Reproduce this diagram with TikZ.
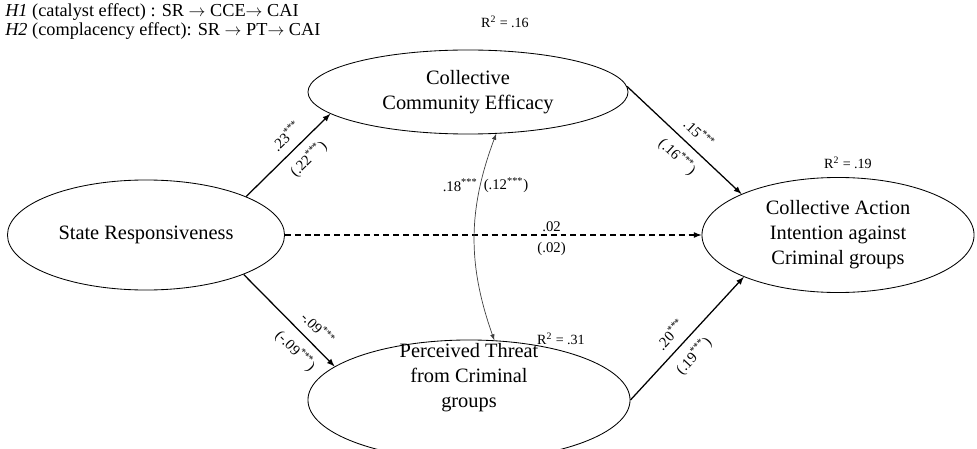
\documentclass[tikz,border=0pt]{standalone}
\usepackage{fontspec}
\setmainfont{Liberation Serif}
\usepackage{tikz}
\usetikzlibrary{shapes.geometric, arrows, positioning}
\tikzstyle{latent} = [ellipse, draw=black, line width=0.6pt, inner sep=0pt, align=center, font=\fontsize{14.5}{17.8}\selectfont]
\tikzstyle{ltext} = [align=center, inner sep=0pt, font=\fontsize{14.5}{17.8}\selectfont]
\tikzstyle{line} = [draw, line width=0.9pt, -latex]
\tikzstyle{dashline} = [draw, line width=0.9pt, dash pattern=on 4.2pt off 2.8pt, -latex]
\tikzstyle{covline} = [draw=black!75, line width=0.5pt, latex-latex]
\tikzstyle{coef} = [font=\fontsize{10.5}{12}\selectfont, inner sep=1pt, text=black]
\tikzstyle{rsq} = [font=\fontsize{10}{12}\selectfont, inner sep=0pt]
\newcommand{\sig}{\textsuperscript{***}}

\begin{document}
\begin{tikzpicture}[x=0.025cm, y=0.025cm]
        \useasboundingbox (0,0) rectangle (977,448);

        \node (hyp) [anchor=north west, align=left, inner sep=0pt, font=\fontsize{13}{13.8}\selectfont] at (5,445)
                {\textit{H1} (catalyst effect) : SR $\rightarrow$ CCE$\rightarrow$ CAI\\
                 \textit{H2} (complacency effect): SR $\rightarrow$ PT$\rightarrow$ CAI};

        \node (sr)  [latent, minimum width=6.925cm, minimum height=2.75cm] at (146,213) {State Responsiveness};
        \node (cce) [latent, minimum width=8cm, minimum height=2.1cm] at (468,356) {Collective\\Community Efficacy};
        \node (cai) [latent, minimum width=6.8cm, minimum height=2.875cm] at (838,213) {Collective Action\\Intention against\\Criminal groups};
        \node (pt)  [latent, minimum width=8.05cm, minimum height=3cm] at (469,48) {};
        \node (pttext) [ltext] at (469,70) {Perceived Threat\\from Criminal\\groups};

        % R squared
        \node (r1) [rsq] at (505,426) {R\textsuperscript{2} = .16};
        \node (r2) [rsq] at (848,285) {R\textsuperscript{2} = .19};
        \node (r3) [rsq] at (561,109) {R\textsuperscript{2} = .31};

        % Draw edges
        \path [line] (sr.21.5) -- node[coef, pos=0.6, sloped, above=5pt] {.23\sig} node[coef, pos=0.6, sloped, below=5pt] {(.22\sig)} (cce.189.7);
        \path [line] (sr.-22.6) -- node[coef, pos=0.7, sloped, above=5pt] {-.09\sig} node[coef, pos=0.7, sloped, below=5pt] {(-.09\sig)} (pt.166);
        \path [line] (cce.2) -- node[coef, pos=0.54, sloped, above=5pt] {.15\sig} node[coef, pos=0.54, sloped, below=5pt] {(.16\sig)} (cai.157);
        \path [line] (pt.0) -- node[coef, pos=0.45, sloped, above=5pt] {.20\sig} node[coef, pos=0.45, sloped, below=5pt] {(.19\sig)} (cai.204);
        \path [dashline] (sr.east) -- node[coef, pos=0.64, above=1pt] {.02} node[coef, pos=0.64, below=4pt] {(.02)} (cai.west);
        \path [covline] (cce.-56) to[bend right=20] node[coef, pos=0.24, left=1pt] {.18\sig} node[coef, pos=0.24, right=1pt] {(.12\sig)} (pt.67);

\end{tikzpicture}
\end{document}
